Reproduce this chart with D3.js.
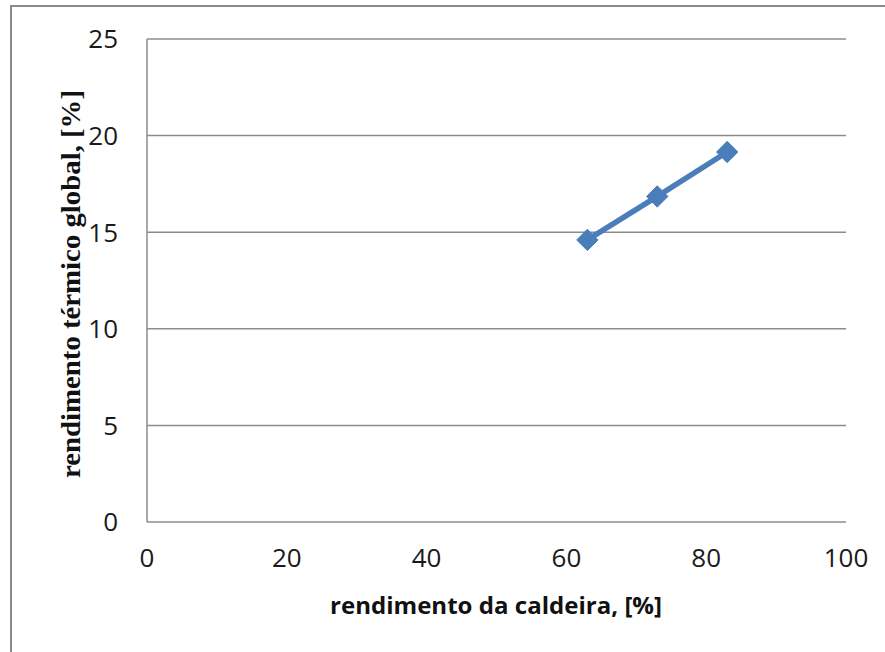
<!DOCTYPE html>
<html>
<head>
<meta charset="utf-8">
<script src="https://cdn.jsdelivr.net/npm/d3@7"></script>
<style>
  html, body { margin: 0; padding: 0; background: #fff; }
  svg { display: block; }
</style>
</head>
<body>
<script>
// Rendimento da caldeira vs rendimento térmico global
const boilerEff = [63, 73, 83];
const globalEff = [14.6, 16.85, 19.15];
const xTicks = [0, 20, 40, 60, 80, 100];
const yTicks = [0, 5, 10, 15, 20, 25];
const xTitle = "rendimento da caldeira, [%]";
const yTitle = "rendimento térmico global, [%]";

const W = 885, H = 652;
const plot = { left: 147, right: 846, top: 39, bottom: 522 };

const svg = d3.select("body").append("svg")
  .attr("width", W).attr("height", H);

// outer frame
svg.append("path")
  .attr("d", `M11,${H} L11,6 L${W},6`)
  .attr("fill", "none").attr("stroke", "#8a8a8a").attr("stroke-width", 2);

const x = d3.scaleLinear().domain([0, 100]).range([plot.left, plot.right]);
const y = d3.scaleLinear().domain([0, 25]).range([plot.bottom, plot.top]);

// horizontal gridlines
svg.append("g").selectAll("line").data(yTicks).join("line")
  .attr("x1", plot.left).attr("x2", plot.right)
  .attr("y1", d => y(d)).attr("y2", d => y(d))
  .attr("stroke", "#8c8c8c").attr("stroke-width", 1.5);

// left axis line
svg.append("line")
  .attr("x1", plot.left).attr("x2", plot.left)
  .attr("y1", plot.top).attr("y2", plot.bottom)
  .attr("stroke", "#8c8c8c").attr("stroke-width", 1.5);

const tickFont = "'Open Sans', sans-serif";

// y tick labels
svg.append("g").selectAll("text").data(yTicks).join("text")
  .attr("x", 118).attr("y", d => y(d))
  .attr("dy", "0.36em")
  .attr("text-anchor", "end")
  .attr("font-family", tickFont).attr("font-size", 26)
  .attr("fill", "#1a1a1a")
  .text(d => d);

// x tick labels
svg.append("g").selectAll("text").data(xTicks).join("text")
  .attr("x", d => x(d)).attr("y", 558)
  .attr("dy", "0.36em")
  .attr("text-anchor", "middle")
  .attr("font-family", tickFont).attr("font-size", 26)
  .attr("fill", "#1a1a1a")
  .text(d => d);

// axis titles
svg.append("text")
  .attr("x", 496).attr("y", 614)
  .attr("text-anchor", "middle")
  .attr("font-family", "'Open Sans', sans-serif")
  .attr("font-weight", "bold").attr("font-size", 23)
  .attr("textLength", 332).attr("lengthAdjust", "spacingAndGlyphs")
  .attr("fill", "#111")
  .text(xTitle);

svg.append("text")
  .attr("transform", "translate(80,284) rotate(-90)")
  .attr("text-anchor", "middle")
  .attr("font-family", "'Liberation Serif', 'Times New Roman', serif")
  .attr("font-weight", "bold").attr("font-size", 27)
  .attr("textLength", 388).attr("lengthAdjust", "spacingAndGlyphs")
  .attr("fill", "#111")
  .text(yTitle);

// series
const pts = boilerEff.map((v, i) => [v, globalEff[i]]);
const color = "#4a7ebb";

svg.append("path")
  .datum(pts)
  .attr("d", d3.line().x(d => x(d[0])).y(d => y(d[1])))
  .attr("fill", "none").attr("stroke", color)
  .attr("stroke-width", 5.5).attr("stroke-linejoin", "round");

svg.append("g").selectAll("path").data(pts).join("path")
  .attr("transform", d => `translate(${x(d[0])},${y(d[1])})`)
  .attr("d", d3.symbol().type(d3.symbolDiamond2).size(290))
  .attr("fill", color)
  .attr("stroke", color).attr("stroke-width", 1);
</script>
</body>
</html>
